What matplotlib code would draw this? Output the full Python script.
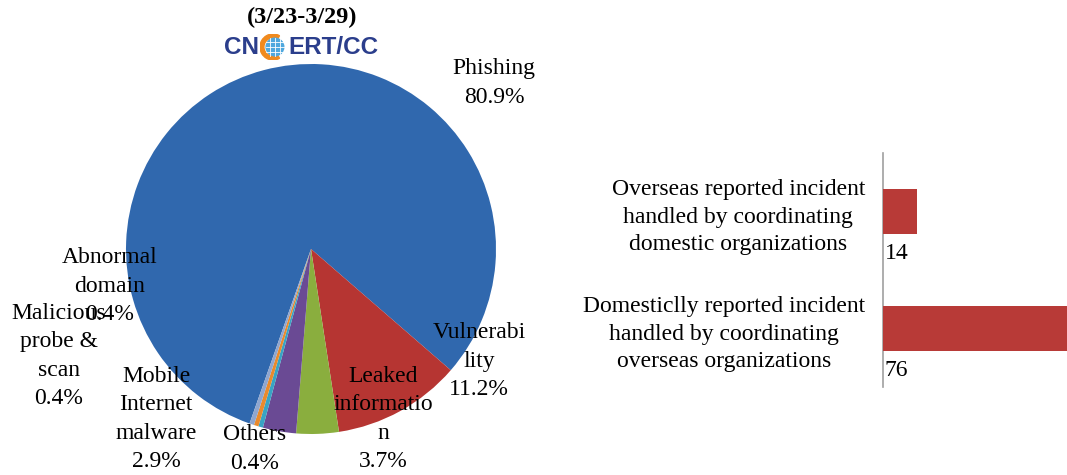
import matplotlib
matplotlib.use("Agg")
import matplotlib.pyplot as plt
from matplotlib.patches import Circle, Wedge

plt.rcParams['font.family'] = ['Liberation Serif', 'DejaVu Serif']

# pie data
pie_labels = ["Phishing", "Vulnerability", "Leaked information",
              "Mobile Internet malware", "Others",
              "Malicious probe & scan", "Abnormal domain"]
pie_values = [80.9, 11.2, 3.7, 2.9, 0.4, 0.4, 0.4]
pie_colors = ["#3068AE", "#B63532", "#8AAE3E", "#6A4A94",
              "#38A4C4", "#EA8A2C", "#8FA6CF"]
# wrapped the way the original chart wraps them
pie_text = ["Phishing", "Vulnerabi\nlity", "Leaked\ninformatio\nn",
            "Mobile\nInternet\nmalware", "Others",
            "Malicious\nprobe &\nscan", "Abnormal\ndomain"]

# bar data
bar_labels = ["Overseas reported incident\nhandled by coordinating\ndomestic organizations",
              "Domesticlly reported incident\nhandled by coordinating\noverseas organizations"]
bar_values = [14, 76]

W, H = 1067, 475
fig = plt.figure(figsize=(W / 100, H / 100), dpi=100)

def fx(px):
    return px / W

def fy(py):
    return 1 - py / H

# ---- pie ----
cx, cy, r = 311, 249, 185
ax = fig.add_axes([fx(cx - r), fy(cy + r), 2 * r / W, 2 * r / H])
ax.pie(pie_values, colors=pie_colors, startangle=250.6, counterclock=False,
       radius=1, wedgeprops=dict(linewidth=0))
ax.set_xlim(-1, 1)
ax.set_ylim(-1, 1)
ax.set_aspect("auto")
ax.axis("off")

# label block centres in pixels (label placement copied from the original)
label_pos = [(494, 83), (479, 361), (383, 419), (156, 419),
             (255, 449), (59, 356), (110, 286)]
for txt, v, (px, py) in zip(pie_text, pie_values, label_pos):
    fig.text(fx(px), fy(py), f"{txt}\n{v:.1f}%", ha="center", va="center",
             multialignment="center", fontsize=17, linespacing=1.47, zorder=5)

# title and logo
fig.text(fx(302), fy(17), "(3/23-3/29)", ha="center", va="center",
         fontsize=17.5, fontweight="bold")
navy = "#2B3E8C"
fig.text(fx(259), fy(47), "CN", ha="right", va="center", color=navy,
         fontsize=17.5, fontweight="bold", family="Liberation Sans")
fig.text(fx(288), fy(47), "ERT/CC", ha="left", va="center", color=navy,
         fontsize=17.5, fontweight="bold", family="Liberation Sans")
lg = fig.add_axes([fx(260), fy(60), 26 / W, 26 / H])
lg.set_xlim(-1, 1)
lg.set_ylim(-1, 1)
lg.axis("off")
lg.add_patch(Wedge((0, 0), 1, 60, 300, width=0.3, color="#F08A1E"))
lg.add_patch(Circle((0.15, 0), 0.68, color="#4FA8DE"))
for k in (-0.35, 0, 0.35):
    lg.plot([0.15 - 0.66, 0.15 + 0.66], [k, k], color="white", lw=0.6)
    lg.plot([0.15 + k, 0.15 + k], [-0.66, 0.66], color="white", lw=0.6)

# ---- bars ----
bx = fig.add_axes([fx(883), fy(387), (W - 883) / W, (387 - 153) / H])
ypos = list(range(len(bar_values)))
bx.barh(ypos, bar_values, height=0.39, color="#B83A37", zorder=3)
bx.set_xlim(0, 76)
bx.set_ylim(len(bar_values) - 0.5, -0.5)
bx.set_yticks(ypos)
bx.set_yticklabels(bar_labels, fontsize=17, linespacing=1.38,
                   multialignment="center")
bx.tick_params(axis="y", length=0, pad=13)
bx.set_xticks([])
for s in ("top", "right", "bottom"):
    bx.spines[s].set_visible(False)
bx.spines["left"].set_color("#A0A0A0")
bx.spines["left"].set_linewidth(1.2)
for y, v in zip(ypos, bar_values):
    bx.text(0.6, y + 0.36, str(v), ha="left", va="center", fontsize=17)

fig.savefig("out.png", dpi=100)
